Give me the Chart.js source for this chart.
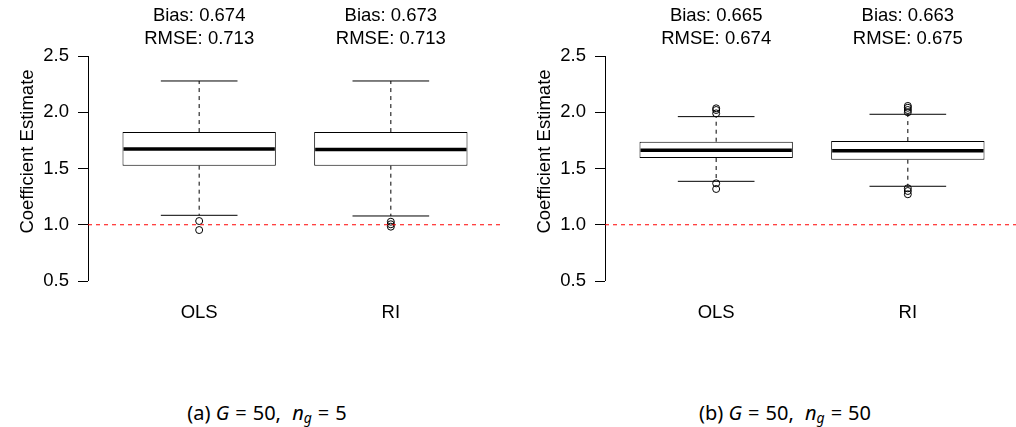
<!DOCTYPE html>
<html>
<head>
<meta charset="utf-8">
<script src="https://cdn.jsdelivr.net/npm/chart.js@4.4.1/dist/chart.umd.min.js"></script>
<style>
  html, body { margin: 0; padding: 0; background: #fff; overflow: hidden; width: 1016px; height: 427px; }
  .panel { position: absolute; top: 0; width: 508px; height: 330px; }
  .caption { position: absolute; top: 399px; width: 260px; text-align: center; line-height: 27px;
             font-family: 'Noto Sans', sans-serif; font-size: 20px; color: #000; white-space: nowrap; }
  .caption sub { font-size: 14px; vertical-align: -3px; line-height: 0; }
  .sp { display: inline-block; width: 6px; }
</style>
</head>
<body>
<div class="panel" style="left:0"><canvas id="chartA" width="508" height="330"></canvas></div>
<div class="panel" style="left:517px"><canvas id="chartB" width="508" height="330"></canvas></div>
<div class="caption" style="left:137px">(a) <i>G</i><span class="sp"></span>=<span class="sp"></span>50,<span class="sp"></span> <i>n<sub>g</sub></i><span class="sp"></span>=<span class="sp"></span>5</div>
<div class="caption" style="left:655px">(b) <i>G</i><span class="sp"></span>=<span class="sp"></span>50,<span class="sp"></span> <i>n<sub>g</sub></i><span class="sp"></span>=<span class="sp"></span>50</div>
<script>
// --- Data ---
const categories = ['OLS', 'RI'];
const yTicks = [0.5, 1.0, 1.5, 2.0, 2.5];
const trueValue = 1.0;

// panel (a): G = 50, n_g = 5
const aLow = [1.084, 1.078];
const aQ1 = [1.525, 1.525];
const aMed = [1.673, 1.670];
const aQ3 = [1.824, 1.824];
const aHigh = [2.278, 2.278];
const aOut = [[1.033, 0.953], [1.027, 1.004, 0.983]];
const aBias = ['0.674', '0.673'];
const aRmse = ['0.713', '0.713'];

// panel (b): G = 50, n_g = 50
const bLow = [1.386, 1.342];
const bQ1 = [1.593, 1.578];
const bMed = [1.662, 1.658];
const bQ3 = [1.738, 1.744];
const bHigh = [1.961, 1.982];
const bOut = [[2.035, 2.02, 1.99, 1.368, 1.318], [2.056, 2.04, 2.02, 2.0, 1.324, 1.30, 1.271]];
const bBias = ['0.665', '0.663'];
const bRmse = ['0.674', '0.675'];

const FONT = "'Liberation Sans', Arial, sans-serif";
const FSIZE = 18.5;

// make sure every axis label picks up the same font
Chart.defaults.font.family = FONT;
Chart.defaults.font.size = FSIZE;
Chart.defaults.color = '#000';

// Whiskers, medians, axis line, reference line and labels
const boxExtras = {
    id: 'boxExtras',
    afterDatasetsDraw(chart, args, opts) {
        const { ctx, chartArea, scales: { x, y } } = chart;
        const boxes = chart.getDatasetMeta(0).data;
        ctx.save();
        ctx.strokeStyle = '#000';

        boxes.forEach((bar, i) => {
            const cx = bar.x;
            const w = bar.width;
            const yq1 = y.getPixelForValue(opts.q1[i]);
            const yq3 = y.getPixelForValue(opts.q3[i]);
            const ylo = y.getPixelForValue(opts.low[i]);
            const yhi = y.getPixelForValue(opts.high[i]);

            // dashed whiskers
            ctx.lineWidth = 1;
            ctx.setLineDash([4, 4]);
            ctx.beginPath();
            ctx.moveTo(cx, yq3); ctx.lineTo(cx, yhi);
            ctx.moveTo(cx, yq1); ctx.lineTo(cx, ylo);
            ctx.stroke();

            // staples
            ctx.setLineDash([]);
            ctx.beginPath();
            ctx.moveTo(cx - w / 4, yhi); ctx.lineTo(cx + w / 4, yhi);
            ctx.moveTo(cx - w / 4, ylo); ctx.lineTo(cx + w / 4, ylo);
            ctx.stroke();

            // median
            const ym = y.getPixelForValue(opts.med[i]);
            ctx.lineWidth = 3.5;
            ctx.beginPath();
            ctx.moveTo(cx - w / 2 + 1, ym); ctx.lineTo(cx + w / 2 - 1, ym);
            ctx.stroke();

            // bias / rmse labels
            ctx.fillStyle = '#000';
            ctx.font = FSIZE + 'px ' + FONT;
            ctx.textAlign = 'center';
            ctx.textBaseline = 'alphabetic';
            ctx.fillText('Bias: ' + opts.bias[i], cx, 21);
            ctx.fillText('RMSE: ' + opts.rmse[i], cx, 44);
        });

        // y axis line spanning the tick range
        ctx.lineWidth = 1;
        ctx.beginPath();
        ctx.moveTo(chartArea.left + 0.5, y.getPixelForValue(yTicks[0]));
        ctx.lineTo(chartArea.left + 0.5, y.getPixelForValue(yTicks[yTicks.length - 1]));
        ctx.stroke();

        // axis title
        ctx.save();
        ctx.translate(chartArea.left - 55, (chartArea.top + chartArea.bottom) / 2 - 17);
        ctx.rotate(-Math.PI / 2);
        ctx.font = FSIZE + 'px ' + FONT;
        ctx.textAlign = 'center';
        ctx.textBaseline = 'alphabetic';
        ctx.fillText('Coefficient Estimate', 0, 0);
        ctx.restore();

        // true value reference line
        const yt = y.getPixelForValue(trueValue);
        ctx.strokeStyle = '#ff0000';
        ctx.setLineDash([4, 4]);
        ctx.beginPath();
        ctx.moveTo(chartArea.left, yt);
        ctx.lineTo(chartArea.right, yt);
        ctx.stroke();
        ctx.restore();
    }
};

function makeBoxChart(canvasId, low, q1, med, q3, high, out, bias, rmse) {
    const boxData = categories.map((c, i) => ({ x: i + 1, y: [q1[i], q3[i]] }));
    const outData = [];
    out.forEach((vals, i) => vals.forEach(v => outData.push({ x: i + 1, y: v })));

    return new Chart(document.getElementById(canvasId), {
        type: 'bar',
        data: {
            datasets: [{
                data: boxData,
                backgroundColor: '#fff',
                borderColor: '#000',
                borderWidth: 1,
                borderSkipped: false,
                categoryPercentage: 0.8,
                barPercentage: 1.0
            }, {
                type: 'line',
                data: outData,
                showLine: false,
                pointStyle: 'circle',
                pointRadius: 3.5,
                pointBorderWidth: 1,
                pointBorderColor: '#000',
                pointBackgroundColor: 'rgba(0,0,0,0)'
            }]
        },
        options: {
            responsive: false,
            animation: false,
            devicePixelRatio: 1,
            layout: { padding: { top: 47, right: 6, left: 0, bottom: 0 } },
            plugins: {
                legend: { display: false },
                tooltip: { enabled: false },
                boxExtras: { low, q1, med, q3, high, bias, rmse }
            },
            scales: {
                x: {
                    type: 'linear',
                    min: 0.42,
                    max: 2.58,
                    offset: false,
                    afterBuildTicks: (s) => { s.ticks = categories.map((c, i) => ({ value: i + 1 })); },
                    afterFit: (s) => { s.height = 40; },
                    grid: { display: false, drawTicks: false },
                    border: { display: false },
                    ticks: {
                        padding: 12,
                        color: '#000',
                        font: { family: FONT, size: FSIZE },
                        callback: (v) => categories[v - 1]
                    }
                },
                y: {
                    type: 'linear',
                    min: 0.42,
                    max: 2.58,
                    afterBuildTicks: (s) => { s.ticks = yTicks.map(v => ({ value: v })); },
                    afterFit: (s) => { s.width = 88; },
                    grid: { drawOnChartArea: false, drawTicks: true, tickLength: 10, color: '#000', lineWidth: 1 },
                    border: { display: false },
                    ticks: {
                        padding: 9,
                        color: '#000',
                        font: { family: FONT, size: FSIZE },
                        callback: (v) => v.toFixed(1)
                    }
                }
            }
        },
        plugins: [boxExtras]
    });
}

makeBoxChart('chartA', aLow, aQ1, aMed, aQ3, aHigh, aOut, aBias, aRmse);
makeBoxChart('chartB', bLow, bQ1, bMed, bQ3, bHigh, bOut, bBias, bRmse);
</script>
</body>
</html>
